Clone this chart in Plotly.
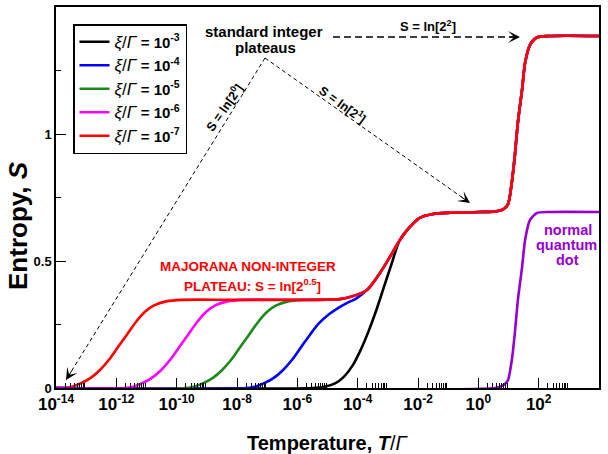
import plotly.graph_objects as go

# ---------------- data (x = log10(T/Γ), y = entropy S) ----------------
# shared high-temperature part (all ξ/Γ curves coincide here)
upper_logT = [-4.59, -4.26, -3.69, -3.26, -2.93, -2.60, -2.27, -1.94, -1.50, -0.94,
              0.05, 0.55, 0.82, 0.98, 1.11, 1.21, 1.31, 1.45, 1.55, 1.71, 1.94, 2.37, 4.0]
upper_S = [0.350, 0.358, 0.386, 0.453, 0.516, 0.583, 0.634, 0.670, 0.685, 0.690,
           0.693, 0.695, 0.703, 0.723, 0.810, 0.915, 1.045, 1.175, 1.280, 1.350, 1.380, 1.386, 1.386]

red_logT = [-14.0, -13.75, -13.45, -13.15, -12.85, -12.55, -12.25, -11.95, -11.65, -11.35,
            -11.05, -10.75, -10.35, -9.85, -8.0, -6.0, -5.0]
red_S = [0.0, 0.0, 0.006, 0.02, 0.04, 0.07, 0.11, 0.16, 0.21, 0.26, 0.30, 0.325, 0.341, 0.347,
         0.347, 0.347, 0.348]

magenta_logT = [-14.0, -11.72, -11.42, -11.12, -10.82, -10.52, -10.22, -9.92, -9.62, -9.32,
                -9.02, -8.72, -8.32, -7.82, -6.0, -5.0]
magenta_S = [0.0, 0.0, 0.006, 0.02, 0.04, 0.07, 0.11, 0.16, 0.21, 0.26, 0.30, 0.325, 0.341, 0.347,
             0.347, 0.348]

green_logT = [-14.0, -9.7, -9.4, -9.1, -8.8, -8.5, -8.2, -7.9, -7.6, -7.3, -7.0, -6.7, -6.3, -5.8, -5.0]
green_S = [0.0, 0.0, 0.006, 0.02, 0.04, 0.07, 0.11, 0.16, 0.21, 0.26, 0.30, 0.325, 0.341, 0.347, 0.348]

blue_logT = [-14.0, -7.68, -7.38, -7.08, -6.78, -6.48, -6.18, -5.88, -5.58, -5.28, -4.95, -4.6, -4.3, -4.05]
blue_S = [0.0, 0.0, 0.006, 0.02, 0.04, 0.07, 0.11, 0.16, 0.21, 0.255, 0.29, 0.318, 0.338, 0.352]

black_logT = [-14.0, -5.5, -5.1, -4.75, -4.45, -4.16, -3.9, -3.65, -3.4, -3.15, -2.9]
black_S = [0.0, 0.0, 0.005, 0.018, 0.045, 0.09, 0.15, 0.22, 0.30, 0.39, 0.48]

qd_logT = [-14.0, 0.55, 0.82, 0.98, 1.11, 1.21, 1.31, 1.45, 1.55, 1.71, 1.94, 2.37, 4.0]
qd_S = [0.0, 0.0, 0.01, 0.03, 0.11, 0.216, 0.346, 0.476, 0.583, 0.661, 0.689, 0.693, 0.693]

xi_exponents = [-3, -4, -5, -6, -7]
series_colors = ["#000000", "#0000ff", "#1a8a1a", "#ff00ff", "#ff0000"]

x_tick_exps = list(range(-14, 5, 2))
y_ticks = [0, 0.5, 1, 1.5]
y_tick_text = ["0", "0.5", "1", "1.5"]

# ---------------- build series ----------------
series = [
    (black_logT + upper_logT[5:], black_S + upper_S[5:]),
    (blue_logT + upper_logT[2:], blue_S + upper_S[2:]),
    (green_logT + upper_logT, green_S + upper_S),
    (magenta_logT + upper_logT, magenta_S + upper_S),
    (red_logT + upper_logT, red_S + upper_S),
]

FONT = "Liberation Sans, Arial, sans-serif"
fig = go.Figure()

for i, ((lx, s), e, c) in enumerate(zip(series, xi_exponents, series_colors)):
    fig.add_trace(go.Scatter(
        x=[10 ** v for v in lx], y=s, mode="lines",
        line=dict(color=c, width=2.6, shape="spline", smoothing=0.8),
        name=(f"<span style='font-size:17px'><i>ξ</i>/<i>Γ</i></span>"
              f"<b> = 10<sup>{e}</sup></b>"),
        legendgroup=f"g{i}",
    ))

fig.add_trace(go.Scatter(
    x=[10 ** v for v in qd_logT], y=qd_S, mode="lines",
    line=dict(color="#9400d3", width=2.6, shape="spline", smoothing=0.6),
    showlegend=False,
))

# ---------------- layout ----------------
L, R, T, B = 56, 599, 7, 388


def px2fx(px):
    return (px - L) / (R - L)


def py2fy(py):
    return (B - py) / (B - T)


minor_vals = [k * 10 ** e for e in x_tick_exps[:-1] for k in range(2, 10)]

fig.update_layout(
    width=608, height=454,
    margin=dict(l=L, r=608 - R, t=T, b=454 - B, autoexpand=False),
    paper_bgcolor="white", plot_bgcolor="white",
    font=dict(family=FONT, color="black"),
    legend=dict(
        x=px2fx(73), y=py2fy(24), xanchor="left", yanchor="top",
        bordercolor="black", borderwidth=1.5, bgcolor="white",
        font=dict(size=15, family=FONT), tracegroupgap=1,
        traceorder="grouped",
    ),
    xaxis=dict(
        type="log", range=[-14, 4], automargin=False,
        tickmode="array", tickvals=[10 ** e for e in x_tick_exps],
        ticktext=[f"<b>10<sup>{e}</sup></b>" for e in x_tick_exps],
        tickfont=dict(size=17, family=FONT),
        ticks="inside", ticklen=10, tickwidth=1, tickcolor="black",
        minor=dict(tickmode="array", tickvals=minor_vals, ticks="inside",
                   ticklen=5, tickwidth=1, tickcolor="black", showgrid=False),
        showgrid=False, zeroline=False,
        showline=True, linecolor="black", linewidth=1.5, mirror=True,
    ),
    yaxis=dict(
        range=[0, 1.5], automargin=False, tickmode="array", tickvals=y_ticks,
        ticktext=[f"<b>{t}</b>" for t in y_tick_text],
        tickfont=dict(size=13, family=FONT),
        ticks="inside", ticklen=10, tickwidth=1, tickcolor="black",
        minor=dict(tickvals=[0.25, 0.75, 1.25], ticks="inside", ticklen=5,
                   tickwidth=1, tickcolor="black", showgrid=False),
        showgrid=False, zeroline=False,
        showline=True, linecolor="black", linewidth=1.5, mirror=True,
    ),
)

# dashed guide lines (paper coords)
peak = (px2fx(265), py2fy(58))
tip0 = (px2fx(66), py2fy(380))
tip1 = (px2fx(470), py2fy(203))
h0 = (px2fx(333), py2fy(37))
h1 = (px2fx(520), py2fy(37))

for (a, b, w, d) in [(peak, tip0, 1, "4px,3px"), (peak, tip1, 1, "4px,3px"), (h0, h1, 1.5, "7px,4px")]:
    fig.add_shape(type="line", xref="paper", yref="paper",
                  x0=a[0], y0=a[1], x1=b[0], y1=b[1],
                  line=dict(color="black", width=w, dash=d))

# arrow heads
for (tip, ax, ay) in [(tip0, 6.5, -10.5), (tip1, -10, -7), (h1, -12, 0)]:
    fig.add_annotation(x=tip[0], y=tip[1], xref="paper", yref="paper",
                       text="", showarrow=True, arrowhead=3, arrowsize=2,
                       arrowwidth=1, arrowcolor="black", ax=ax, ay=ay, standoff=0)


def label(text, px, py, size, color="black", angle=0):
    fig.add_annotation(x=px2fx(px), y=py2fy(py), xref="paper", yref="paper",
                       text=text, showarrow=False, textangle=angle,
                       font=dict(size=size, color=color, family=FONT),
                       xanchor="center", yanchor="middle")


label("<b>standard integer</b>", 264, 32, 15)
label("<b>plateaus</b>", 265, 47, 15)
label("<b>S = ln[2<sup>2</sup>]</b>", 428, 26, 13)
label("<b>S = ln[2<sup>0</sup>]</b>", 224, 107, 12.5, angle=-55)
label("<b>S = ln[2<sup>1</sup>]</b>", 343, 104, 12.5, angle=36)
label("<b>MAJORANA NON-INTEGER</b>", 248, 266, 13.5, color="#ff0000")
label("<b>PLATEAU: S = ln[2<sup>0.5</sup>]</b>", 252, 285, 13.5, color="#ff0000")
label("<b>normal</b>", 568, 230, 14.5, color="#9400d3")
label("<b>quantum</b>", 566, 245, 14.5, color="#9400d3")
label("<b>dot</b>", 567, 260, 14.5, color="#9400d3")

# axis titles
label("<b>Temperature, <i>T</i></b>/<i>Γ</i>", 328, 443, 20)
label("<b>Entropy, <i>S</i></b>", 18, 226, 26, angle=-90)

fig.write_html("out.html", config={"displayModeBar": False},
               post_script="document.body.style.margin='0';")
